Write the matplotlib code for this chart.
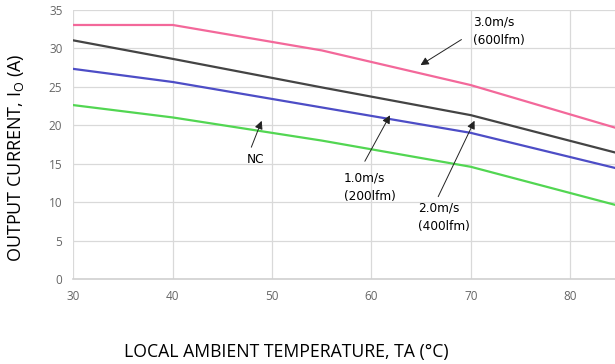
import matplotlib.pyplot as plt

# derating curves: temperature (C) vs output current (A)
temp = [30, 40, 55, 70, 85]
nc = [22.6, 21.0, 18.0, 14.6, 9.5]
v1 = [27.3, 25.6, 22.3, 19.0, 14.3]
v2 = [31.0, 28.6, 24.9, 21.3, 16.3]
v3 = [33.0, 33.0, 29.7, 25.2, 19.5]

xticks = [30, 40, 50, 60, 70, 80]
yticks = [0, 5, 10, 15, 20, 25, 30, 35]

fig = plt.figure(figsize=(6.15, 3.64), dpi=100)
ax = fig.add_axes([0.1195, 0.2327, 0.885, 0.741])

ax.plot(temp, v3, color='#f3689a', lw=1.6)
ax.plot(temp, v2, color='#444444', lw=1.6)
ax.plot(temp, v1, color='#4d4dc6', lw=1.6)
ax.plot(temp, nc, color='#52d652', lw=1.6)

ax.set_xlim(30, 84.8)
ax.set_ylim(0, 35)
ax.set_xticks(xticks)
ax.set_yticks(yticks)
ax.grid(True, color='#d9d9d9', lw=0.9)
ax.set_axisbelow(True)
for s in ['top', 'right', 'left']:
    ax.spines[s].set_visible(False)
ax.spines['bottom'].set_color('#d0d0d0')
ax.spines['bottom'].set_linewidth(1.2)
ax.tick_params(length=0, labelsize=8.5, labelcolor='#666666', pad=8)
for lbl in ax.get_xticklabels() + ax.get_yticklabels():
    lbl.set_family('Open Sans')

ax.set_xlabel('LOCAL AMBIENT TEMPERATURE, TA (°C)', family='Open Sans',
              fontsize=12.7)
ax.xaxis.set_label_coords(0.39, -0.235)
ax.set_ylabel(r'OUTPUT CURRENT, I$_\mathregular{O}$ (A)', family='Open Sans',
              fontsize=13)
ax.yaxis.set_label_coords(-0.088, 0.45)

arrow = dict(arrowstyle='-|>', color='#222222', lw=0.7, mutation_scale=12)
tkw = dict(fontsize=8.7, family='DejaVu Sans', ha='left', va='center',
           linespacing=1.55)

ax.text(70.2, 32.2, '3.0m/s\n(600lfm)', **tkw)
ax.annotate('', xy=(64.7, 27.6), xytext=(69.3, 31.3), arrowprops=arrow)

ax.text(47.4, 15.6, 'NC', **tkw)
ax.annotate('', xy=(49.05, 20.9), xytext=(47.8, 16.8), arrowprops=arrow)

ax.text(57.2, 11.9, '1.0m/s\n(200lfm)', **tkw)
ax.annotate('', xy=(62.0, 21.6), xytext=(59.2, 15.0), arrowprops=arrow)

ax.text(64.7, 8.1, '2.0m/s\n(400lfm)', **tkw)
ax.annotate('', xy=(70.5, 20.9), xytext=(66.6, 10.4), arrowprops=arrow)

fig.savefig('out.png', dpi=100)
